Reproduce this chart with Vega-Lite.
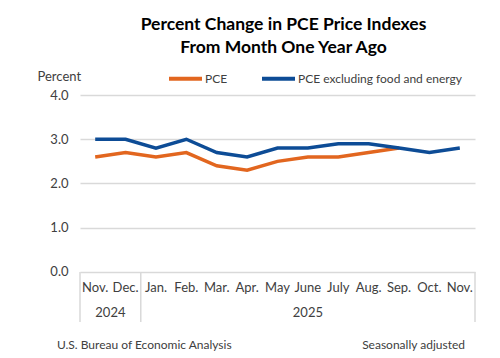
{
  "$schema": "https://vega.github.io/schema/vega-lite/v6.json",
  "width": 395,
  "height": 227,
  "autosize": "none",
  "padding": {"left": 80, "top": 95, "right": 25, "bottom": 36},
  "background": "white",
  "config": {"font": "Lato", "view": {"stroke": null}},
  "title": {
    "text": ["Percent Change in PCE Price Indexes", "From Month One Year Ago"],
    "fontSize": 17.5,
    "fontWeight": "bold",
    "color": "#000000",
    "anchor": "middle",
    "frame": "group",
    "offset": 4,
    "lineHeight": 23,
    "dx": 6
  },
  "datasets": {
    "series": [
      {"i": 0, "month": "Nov.", "series": "PCE", "value": 2.6},
      {"i": 1, "month": "Dec.", "series": "PCE", "value": 2.7},
      {"i": 2, "month": "Jan.", "series": "PCE", "value": 2.6},
      {"i": 3, "month": "Feb.", "series": "PCE", "value": 2.7},
      {"i": 4, "month": "Mar.", "series": "PCE", "value": 2.4},
      {"i": 5, "month": "Apr.", "series": "PCE", "value": 2.3},
      {"i": 6, "month": "May", "series": "PCE", "value": 2.5},
      {"i": 7, "month": "June", "series": "PCE", "value": 2.6},
      {"i": 8, "month": "July", "series": "PCE", "value": 2.6},
      {"i": 9, "month": "Aug.", "series": "PCE", "value": 2.7},
      {"i": 10, "month": "Sep.", "series": "PCE", "value": 2.8},
      {"i": 0, "month": "Nov.", "series": "PCE excluding food and energy", "value": 3.0},
      {"i": 1, "month": "Dec.", "series": "PCE excluding food and energy", "value": 3.0},
      {"i": 2, "month": "Jan.", "series": "PCE excluding food and energy", "value": 2.8},
      {"i": 3, "month": "Feb.", "series": "PCE excluding food and energy", "value": 3.0},
      {"i": 4, "month": "Mar.", "series": "PCE excluding food and energy", "value": 2.7},
      {"i": 5, "month": "Apr.", "series": "PCE excluding food and energy", "value": 2.6},
      {"i": 6, "month": "May", "series": "PCE excluding food and energy", "value": 2.8},
      {"i": 7, "month": "June", "series": "PCE excluding food and energy", "value": 2.8},
      {"i": 8, "month": "July", "series": "PCE excluding food and energy", "value": 2.9},
      {"i": 9, "month": "Aug.", "series": "PCE excluding food and energy", "value": 2.9},
      {"i": 10, "month": "Sep.", "series": "PCE excluding food and energy", "value": 2.8},
      {"i": 11, "month": "Oct.", "series": "PCE excluding food and energy", "value": 2.7},
      {"i": 12, "month": "Nov.", "series": "PCE excluding food and energy", "value": 2.8}
    ],
    "years": [
      {"year": "2024", "mid": 0.5},
      {"year": "2025", "mid": 7}
    ],
    "separators": [
      {"edge": -0.5},
      {"edge": 1.5},
      {"edge": 12.5}
    ]
  },
  "encoding": {
    "x": {"type": "quantitative", "scale": {"domain": [-0.5, 12.5], "nice": false, "zero": false}, "axis": null}
  },
  "layer": [
    {
      "data": {"name": "separators"},
      "mark": {"type": "rule", "color": "#d9d9d9", "strokeWidth": 1.5},
      "encoding": {
        "x": {"field": "edge", "type": "quantitative"},
        "y": {
          "datum": 0,
          "type": "quantitative",
          "scale": {"domain": [-1.13, 4], "nice": false, "zero": false},
          "axis": {
            "values": [0, 1, 2, 3, 4],
            "format": ".1f",
            "grid": true,
            "gridColor": "#d9d9d9",
            "gridWidth": 1.5,
            "domain": false,
            "ticks": false,
            "labelPadding": 12,
            "labelFontSize": 13,
            "labelColor": "#404040",
            "title": "Percent",
            "titleAngle": 0,
            "titleAlign": "left",
            "titleBaseline": "middle",
            "titleX": -43,
            "titleY": -19,
            "titleFontSize": 13,
            "titleFontWeight": "normal",
            "titleColor": "#404040"
          }
        },
        "y2": {"datum": -1.13}
      }
    },
    {
      "data": {"name": "series"},
      "mark": {"type": "line", "strokeWidth": 3.5},
      "encoding": {
        "x": {"field": "i", "type": "quantitative"},
        "y": {"field": "value", "type": "quantitative"},
        "color": {
          "field": "series",
          "type": "nominal",
          "scale": {"domain": ["PCE", "PCE excluding food and energy"], "range": ["#E2661F", "#0D4C96"]},
          "legend": {
            "orient": "none",
            "legendX": 87,
            "legendY": -35,
            "direction": "horizontal",
            "title": null,
            "symbolType": "stroke",
            "symbolStrokeWidth": 4,
            "symbolSize": 1089,
            "labelFontSize": 12,
            "labelColor": "#404040",
            "labelOffset": 1,
            "labelLimit": 400,
            "columnPadding": 26
          }
        }
      }
    },
    {
      "data": {"name": "series"},
      "transform": [{"filter": "datum.series == 'PCE excluding food and energy'"}],
      "mark": {"type": "text", "fontSize": 13, "color": "#404040", "baseline": "middle"},
      "encoding": {
        "x": {"field": "i", "type": "quantitative"},
        "y": {"datum": -0.36},
        "text": {"field": "month"}
      }
    },
    {
      "data": {"name": "years"},
      "mark": {"type": "text", "fontSize": 13, "color": "#404040", "baseline": "middle"},
      "encoding": {
        "x": {"field": "mid", "type": "quantitative"},
        "y": {"datum": -0.93},
        "text": {"field": "year"}
      }
    },
    {
      "data": {"values": [{"note": "U.S. Bureau of Economic Analysis"}]},
      "mark": {"type": "text", "fontSize": 12, "color": "#404040", "baseline": "middle", "align": "left"},
      "encoding": {
        "x": {"datum": -1.26},
        "y": {"datum": -1.65},
        "text": {"field": "note"}
      }
    },
    {
      "data": {"values": [{"note": "Seasonally adjusted"}]},
      "mark": {"type": "text", "fontSize": 12, "color": "#404040", "baseline": "middle", "align": "right"},
      "encoding": {
        "x": {"datum": 12.17},
        "y": {"datum": -1.65},
        "text": {"field": "note"}
      }
    }
  ]
}
